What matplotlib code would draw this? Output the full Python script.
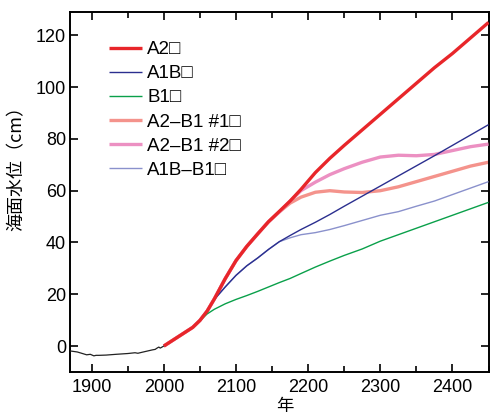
import matplotlib
matplotlib.use('Agg')
import matplotlib.pyplot as plt
from matplotlib.ticker import MultipleLocator

# Observed sea level (cm), 1870-2000
HIST_YEARS = [1870, 1875, 1880, 1886, 1893, 1898, 1903, 1906, 1910, 1920, 1934, 1950, 1960, 1964,
              1970, 1984, 1988, 1990, 1993, 1995, 2000]
HIST_LEVEL = [-1.9, -2.1, -2.3, -2.8, -3.4, -3.2, -3.8, -3.6, -3.6, -3.5, -3.2, -2.9, -2.6, -2.8,
              -2.4, -1.5, -1.3, -0.9, -0.4, -0.8, 0.0]

# Scenario projections (cm)
YEARS = [2000, 2020, 2040, 2050, 2060, 2070, 2085, 2100, 2115, 2130, 2145, 2160, 2175, 2190,
         2210, 2230, 2250, 2275, 2300, 2325, 2350, 2375, 2400, 2425, 2450]
A2 = [0, 3.6, 7.2, 9.9, 13.5, 18.2, 26, 33, 38.5, 43.3, 48, 52, 56, 60.5,
      67, 72.5, 77.5, 83.5, 89.5, 95.5, 101.5, 107.5, 113, 119, 125]
A1B = [0, 3.6, 7.2, 9.9, 13.5, 18, 22.8, 27.3, 31, 34, 37.3, 40.3, 42.7, 45,
       47.8, 50.8, 54, 57.9, 61.8, 65.7, 69.6, 73.5, 77.5, 81.5, 85.5]
B1 = [0, 3.6, 7.2, 9.8, 12.4, 14.2, 16.3, 18, 19.5, 21.1, 22.8, 24.5, 26.1, 28,
      30.5, 32.8, 35, 37.5, 40.5, 43, 45.5, 48, 50.5, 53, 55.5]
A2_B1_1 = [0, 3.6, 7.2, 9.9, 13.5, 18.2, 26, 33, 38.5, 43.3, 48, 51.8, 55.2, 57.5,
           59.4, 60, 59.5, 59.3, 60, 61.5, 63.5, 65.5, 67.5, 69.5, 71]
A2_B1_2 = [0, 3.6, 7.2, 9.9, 13.5, 18.2, 26, 33, 38.5, 43.3, 48, 51.8, 56, 60,
           63.3, 66.2, 68.5, 71, 73, 73.7, 73.5, 74, 75.5, 77, 78]
A1B_B1 = [0, 3.6, 7.2, 9.9, 13.5, 18, 22.8, 27.3, 31, 34, 37.3, 40.3, 41.8, 43,
          43.8, 45, 46.5, 48.5, 50.5, 51.9, 54, 56, 58.5, 61, 63.5]

LABELS = ['A2\u25a1', 'A1B\u25a1', 'B1\u25a1', 'A2\u2013B1 #1\u25a1', 'A2\u2013B1 #2\u25a1', 'A1B\u2013B1\u25a1']
COLORS = ['#e8262a', '#2b2f8f', '#0aa04a', '#f4938c', '#ec90c2', '#8a91cc']
WIDTHS = [2.4, 1.0, 1.0, 2.4, 2.4, 1.0]

plt.rcParams['font.family'] = ['Liberation Sans', 'DejaVu Sans']
fig = plt.figure(figsize=(4.9, 4.16), dpi=100)
ax = fig.add_axes([0.143, 0.106, 0.854, 0.865])

ax.plot(HIST_YEARS, HIST_LEVEL, color='#222222', lw=0.9, zorder=3)
series = [A2, A1B, B1, A2_B1_1, A2_B1_2, A1B_B1]
zorders = [6, 5, 4, 2, 3, 4.5]
for vals, lab, col, w, z in zip(series, LABELS, COLORS, WIDTHS, zorders):
    ax.plot(YEARS, vals, color=col, lw=w, label=lab, zorder=z, solid_capstyle='butt')

ax.set_xlim(1870, 2450)
ax.set_ylim(-10, 129)
ax.xaxis.set_major_locator(MultipleLocator(100))
ax.xaxis.set_minor_locator(MultipleLocator(50))
ax.yaxis.set_major_locator(MultipleLocator(20))
ax.tick_params(which='both', direction='in', top=True, right=True, labelsize=13, width=1.2)
ax.tick_params(axis='y', pad=3)
ax.tick_params(axis='x', pad=5)
ax.tick_params(which='major', length=6)
ax.tick_params(which='minor', length=4)
for s in ax.spines.values():
    s.set_linewidth(1.4)

# axis titles placed by hand, as in the source figure
fig.text(285 / 490, 1 / 416, '年', family=['Noto Sans CJK JP'], fontsize=12.5, ha='center', va='bottom')
fig.text(17 / 490, 1 - 164 / 416, '海面水位（cm）', family=['Noto Sans CJK JP'], fontsize=13,
         rotation=90, ha='center', va='center')

leg = ax.legend(loc='upper left', bbox_to_anchor=(0.07, 0.945), frameon=False, fontsize=13.5,
                handlelength=1.75, handletextpad=0.3, labelspacing=0.37, borderpad=0)

fig.savefig('out.png', dpi=100)
